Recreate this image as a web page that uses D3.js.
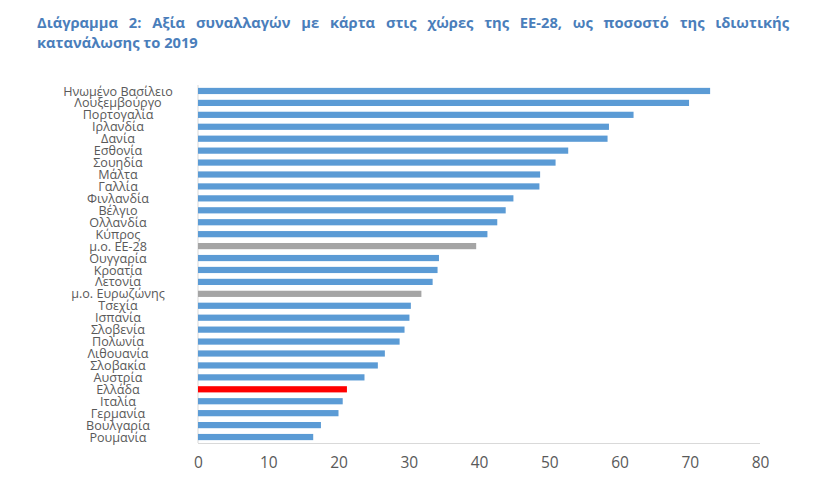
<!DOCTYPE html>
<html>
<head>
<meta charset="utf-8">
<script src="https://cdn.jsdelivr.net/npm/d3@7"></script>
<style>
  html, body { margin: 0; padding: 0; background: #fff; }
  svg { display: block; }
</style>
</head>
<body>
<svg id="chart" width="815" height="485"></svg>
<script>
const titleLine1 = "Διάγραμμα 2: Αξία συναλλαγών με κάρτα στις χώρες της ΕΕ-28, ως ποσοστό της ιδιωτικής";
const titleLine2 = "κατανάλωσης το 2019";

const categories = [
  "Ηνωμένο Βασίλειο", "Λουξεμβούργο", "Πορτογαλία", "Ιρλανδία", "Δανία",
  "Εσθονία", "Σουηδία", "Μάλτα", "Γαλλία", "Φινλανδία",
  "Βέλγιο", "Ολλανδία", "Κύπρος", "μ.ο. ΕΕ-28", "Ουγγαρία",
  "Κροατία", "Λετονία", "μ.ο. Ευρωζώνης", "Τσεχία", "Ισπανία",
  "Σλοβενία", "Πολωνία", "Λιθουανία", "Σλοβακία", "Αυστρία",
  "Ελλάδα", "Ιταλία", "Γερμανία", "Βουλγαρία", "Ρουμανία"
];
const values = [
  72.9, 69.9, 62.0, 58.5, 58.3,
  52.7, 50.9, 48.7, 48.6, 44.9,
  43.8, 42.6, 41.2, 39.6, 34.3,
  34.1, 33.4, 31.8, 30.3, 30.1,
  29.4, 28.7, 26.6, 25.6, 23.7,
  21.2, 20.6, 20.0, 17.5, 16.4
];
const averageCats = ["μ.ο. ΕΕ-28", "μ.ο. Ευρωζώνης"];
const highlightCat = "Ελλάδα";
const xTicks = [0, 10, 20, 30, 40, 50, 60, 70, 80];

const data = categories.map((c, i) => ({ cat: c, val: values[i] }));

const svg = d3.select("#chart");
const mLeft = 198, mRight = 760, mTop = 85, mBottom = 443;

const x = d3.scaleLinear().domain([0, 80]).range([mLeft, mRight]);
const y = d3.scaleBand().domain(categories).range([mTop, mBottom]).paddingInner(0.48).paddingOuter(0.24);

// Title (justified first line)
const titleColor = "#4a7ebb";
const tFont = "'Open Sans', sans-serif";
const tSize = 14.7;
const tx0 = 37, tx1 = 789;
const words = titleLine1.split(" ");
const tg = svg.append("g");
const wNodes = words.map(w => tg.append("text")
  .attr("y", 28).attr("font-family", tFont).attr("font-size", tSize)
  .attr("font-weight", "bold").attr("fill", titleColor).text(w));
const widths = wNodes.map(n => n.node().getComputedTextLength());
const totalW = d3.sum(widths);
const gap = (tx1 - tx0 - totalW) / (words.length - 1);
let cx = tx0;
wNodes.forEach((n, i) => { n.attr("x", cx); cx += widths[i] + gap; });
tg.append("text").attr("x", tx0).attr("y", 48)
  .attr("font-family", tFont).attr("font-size", tSize)
  .attr("font-weight", "bold").attr("fill", titleColor).text(titleLine2);

// Axis lines
svg.append("line").attr("x1", mLeft).attr("x2", mLeft).attr("y1", mTop).attr("y2", mBottom)
  .attr("stroke", "#d9d9d9").attr("stroke-width", 1);
svg.append("line").attr("x1", mLeft).attr("x2", mRight).attr("y1", mBottom + 0.5).attr("y2", mBottom + 0.5)
  .attr("stroke", "#d9d9d9").attr("stroke-width", 1);

// Bars
svg.append("g").selectAll("rect").data(data).join("rect")
  .attr("x", x(0))
  .attr("y", d => y(d.cat))
  .attr("width", d => x(d.val) - x(0))
  .attr("height", y.bandwidth())
  .attr("fill", d => d.cat === highlightCat ? "#ff0000" : (averageCats.includes(d.cat) ? "#a5a5a5" : "#5b9bd5"));

// Category labels (centered)
svg.append("g").selectAll("text").data(data).join("text")
  .attr("x", 118)
  .attr("y", d => y(d.cat) + y.bandwidth() / 2)
  .attr("dy", "0.36em")
  .attr("text-anchor", "middle")
  .attr("font-family", "'Open Sans', sans-serif")
  .attr("font-size", 12.6)
  .attr("fill", "#595959")
  .text(d => d.cat);

// X axis
const xAxis = d3.axisBottom(x).tickValues(xTicks).tickSize(0).tickPadding(14);
const ax = svg.append("g").attr("transform", `translate(0,${mBottom})`).call(xAxis);
ax.select(".domain").remove();
ax.selectAll("text")
  .attr("font-family", "'Open Sans', sans-serif")
  .attr("font-size", 15.5)
  .attr("fill", "#595959");
</script>
</body>
</html>
